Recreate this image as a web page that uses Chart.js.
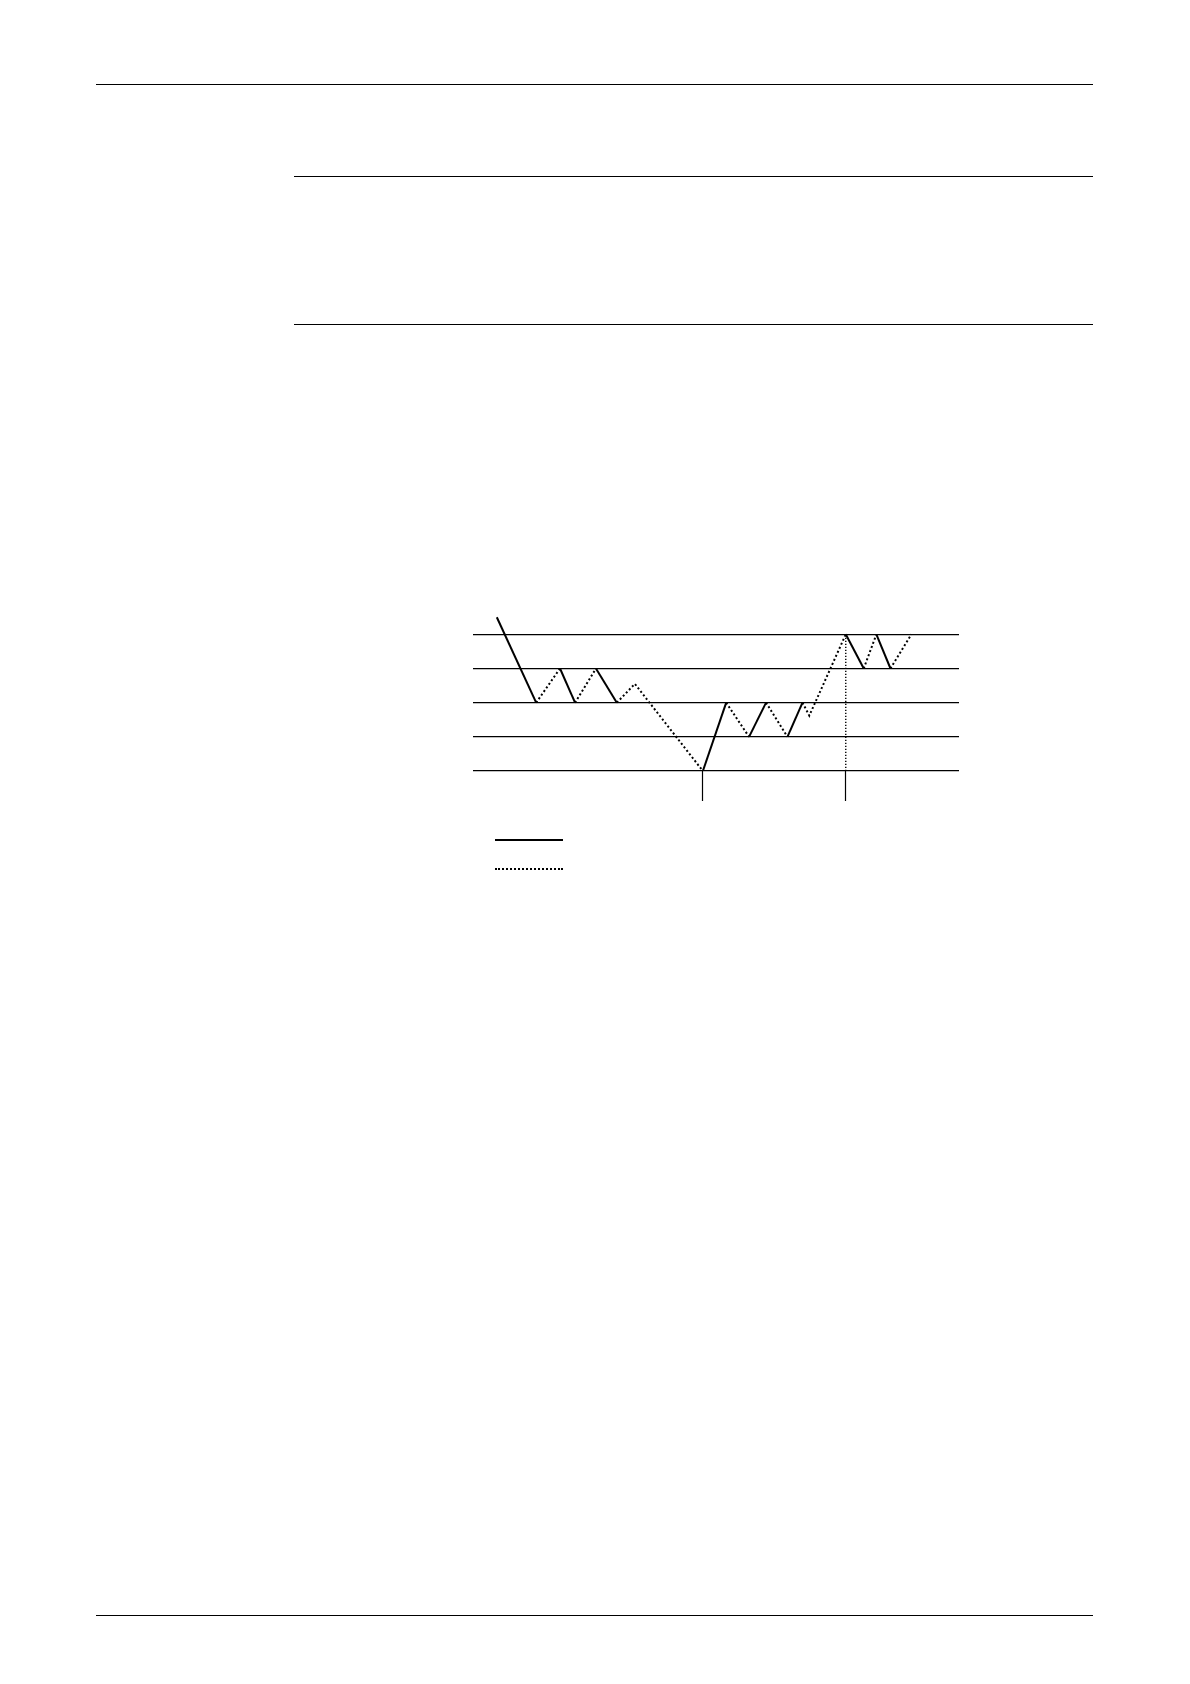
<!DOCTYPE html>
<html>
<head>
<meta charset="utf-8">
<script src="https://cdn.jsdelivr.net/npm/chart.js@4/dist/chart.umd.min.js"></script>
<style>
  html, body { margin: 0; padding: 0; background: #fff; }
  body { width: 1190px; height: 1684px; position: relative; overflow: hidden; font-family: "Liberation Sans", Arial, sans-serif; }
  .rule { position: absolute; background: #000; height: 1.3px; }
  #wrap { position: absolute; left: 473px; top: 607px; width: 486px; height: 194px; }
  .leg { position: absolute; left: 495px; width: 68px; height: 0; }
  .leg.solid { top: 839px; border-top: 2px solid #000; }
  .leg.dot { top: 868px; border-top: 2px dotted #000; }
</style>
</head>
<body>
<div class="rule" style="left:96px; width:997px; top:84px;"></div>
<div class="rule" style="left:294px; width:799px; top:176px;"></div>
<div class="rule" style="left:294px; width:799px; top:324px;"></div>
<div class="rule" style="left:96px; width:997px; top:1615px;"></div>

<div id="wrap"><canvas id="c" width="486" height="194"></canvas></div>
<div class="leg solid"></div>
<div class="leg dot"></div>

<script>
// Time positions (x) and price levels (y) of the zigzag
const timeValues  = [4.9, 13.0, 17.9, 21.0, 25.3, 29.6, 33.3, 47.3, 52.1, 56.8, 60.3, 64.7, 67.8, 69.2, 76.7, 80.4, 83.0, 85.9, 90.2];
const levelValues = [4.5, 2.0, 3.0, 2.0, 3.0, 2.0, 2.55, 0.0, 2.0, 1.0, 2.0, 1.0, 2.0, 1.62, 4.0, 3.0, 4.0, 3.0, 4.0];
// Style of each segment (from point i to i+1): 's' = solid, 'd' = dotted
const segmentStyles = ['s','d','s','d','s','d','d','s','d','s','d','s','d','d','s','d','s','d'];
// Horizontal reference levels
const gridLevels = [0, 1, 2, 3, 4];
// Vertical markers on the time axis; the second one is extended upward as a dotted line
const markerTimes = [47.3, 76.7];
const dottedMarker = 76.7;

const points = timeValues.map((x, i) => ({ x: x, y: levelValues[i] }));
const markerLine = [
  { x: dottedMarker, y: gridLevels[0] },
  { x: dottedMarker, y: gridLevels[gridLevels.length - 1] }
];

new Chart(document.getElementById('c'), {
  type: 'line',
  data: {
    datasets: [{
      data: points,
      borderColor: '#000',
      borderWidth: 2,
      borderCapStyle: 'butt',
      pointRadius: 0,
      tension: 0,
      fill: false,
      segment: {
        borderDash: ctx => segmentStyles[ctx.p0DataIndex] === 'd' ? [2, 2.4] : []
      }
    }, {
      data: markerLine,
      borderColor: '#000',
      borderWidth: 1.4,
      borderDash: [1.2, 1.8],
      borderCapStyle: 'butt',
      pointRadius: 0,
      fill: false
    }]
  },
  options: {
    responsive: false,
    animation: false,
    events: [],
    layout: { padding: 0 },
    plugins: { legend: { display: false }, tooltip: { enabled: false } },
    scales: {
      x: {
        type: 'linear',
        min: 0,
        max: 100,
        afterBuildTicks: axis => { axis.ticks = markerTimes.map(v => ({ value: v })); },
        ticks: { display: false },
        border: { display: false },
        grid: {
          drawOnChartArea: false,
          drawTicks: true,
          tickLength: 30,
          tickWidth: 1.2,
          tickColor: '#000'
        }
      },
      y: {
        type: 'linear',
        min: 0,
        max: 4.8,
        afterBuildTicks: axis => { axis.ticks = gridLevels.map(v => ({ value: v })); },
        ticks: { display: false },
        border: { display: false },
        grid: {
          drawTicks: false,
          color: '#000',
          lineWidth: 1.3
        }
      }
    }
  }
});
</script>
</body>
</html>
